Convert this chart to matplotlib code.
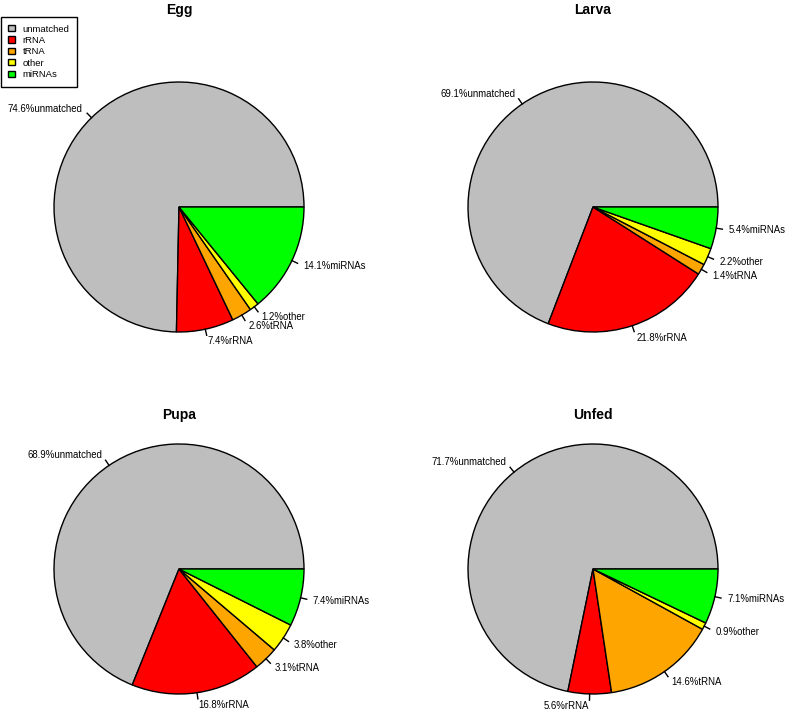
import numpy as np
import matplotlib.pyplot as plt
from matplotlib.patches import Patch

plt.rcParams['font.family'] = ['Liberation Sans', 'DejaVu Sans']

categories = ['unmatched', 'rRNA', 'tRNA', 'other', 'miRNAs']
colors = ['#BEBEBE', '#FF0000', '#FFA500', '#FFFF00', '#00FF00']

stages = ['Egg', 'Larva', 'Pupa', 'Unfed']
egg = [74.6, 7.4, 2.6, 1.2, 14.1]
larva = [69.1, 21.8, 1.4, 2.2, 5.4]
pupa = [68.9, 16.8, 3.1, 3.8, 7.4]
unfed = [71.7, 5.6, 14.6, 0.9, 7.1]

W, H = 785, 710
R = 125.0  # pie radius in px

fig = plt.figure(figsize=(W / 100, H / 100), dpi=100)

# (center x, center y, title y) in px from top-left
layout = [(179, 207, 10), (593, 207, 10), (179, 569, 415), (593, 569, 415)]


def draw_pie(vals, name, cx, cy, ty):
    hw, hh = 190, 150
    ax = fig.add_axes([(cx - hw) / W, 1 - (cy + hh) / H, 2 * hw / W, 2 * hh / H])
    ax.pie(vals, colors=colors, startangle=0, counterclock=True,
           wedgeprops=dict(edgecolor='black', linewidth=1.0))
    ax.set_xlim(-hw / R, hw / R)
    ax.set_ylim(-hh / R, hh / R)
    ax.set_aspect('auto')
    ax.axis('off')
    vals = np.asarray(vals, dtype=float)
    cum = np.concatenate([[0], np.cumsum(vals / vals.sum())])
    for i, cat in enumerate(categories):
        mid = np.pi * (cum[i] + cum[i + 1])
        x, y = np.cos(mid), np.sin(mid)
        ax.plot([x, 1.05 * x], [y, 1.05 * y], color='black', lw=1.0,
                clip_on=False)
        ax.text(1.1 * x, 1.1 * y, '{:.1f}%{}'.format(vals[i], cat),
                ha='left' if x >= 0 else 'right', va='center', fontsize=6.9)
    fig.text(cx / W, 1 - ty / H, name, ha='center', va='center',
             fontsize=10, fontweight='bold')


for vals, name, (cx, cy, ty) in zip([egg, larva, pupa, unfed], stages, layout):
    draw_pie(vals, name, cx, cy, ty)

handles = [Patch(facecolor=c, edgecolor='black', linewidth=1.0) for c in colors]
leg = fig.legend(handles, categories, loc='upper left',
                 bbox_to_anchor=(0.5 / W, 1 - 17 / H), fontsize=6.8,
                 frameon=True, fancybox=False, edgecolor='black',
                 framealpha=1, handlelength=0.75, handleheight=0.65,
                 handletextpad=0.8, labelspacing=0.25, borderpad=0.8,
                 borderaxespad=0)
leg.get_frame().set_linewidth(1.0)

fig.savefig('out.png', dpi=100)
